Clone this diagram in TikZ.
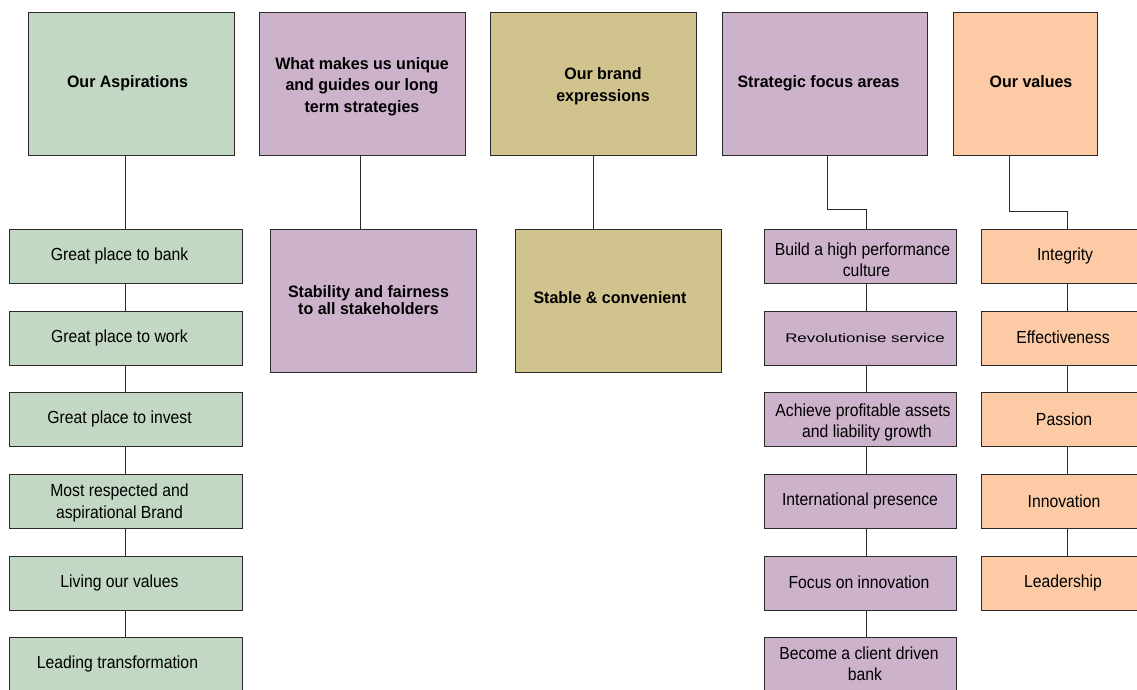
\documentclass[tikz,border=0pt]{standalone}
\usepackage{fontspec}
\setmainfont{Liberation Sans}
\newfontfamily\headfont[FakeStretch=0.97]{Liberation Sans}
\newfontfamily\subfont[FakeStretch=0.9]{Liberation Sans}
\newfontfamily\widefont[FakeStretch=1.35]{Liberation Sans}
\definecolor{cgreen}{HTML}{C2D8C4}
\definecolor{cpurple}{HTML}{CDB2CC}
\definecolor{ckhaki}{HTML}{D0C38E}
\definecolor{corange}{HTML}{FCCAA5}
\definecolor{cline}{HTML}{2A2A2A}
\tikzset{
  box/.style={draw=cline, line width=1pt, rectangle, inner sep=0pt},
  head/.style={box, minimum height=143pt},
  sub/.style={box, minimum height=54pt},
  big/.style={box, minimum width=206pt, minimum height=143pt},
  gbox/.style={fill=cgreen},
  pbox/.style={fill=cpurple},
  kbox/.style={fill=ckhaki},
  obox/.style={fill=corange},
  txt/.style={inner sep=0pt, align=center, text=black},
  headtxt/.style={txt, font=\headfont\bfseries\fontsize{16.5}{21.5}\selectfont},
  bigtxt/.style={txt, font=\headfont\bfseries\fontsize{16.5}{17}\selectfont},
  subtxt/.style={txt, font=\subfont\fontsize{17.5}{21}\selectfont},
  widetxt/.style={txt, font=\widefont\fontsize{12.5}{15}\selectfont},
  conn/.style={draw=cline, line width=1pt},
}
\begin{document}
\begin{tikzpicture}[x=1pt,y=-1pt]
\useasboundingbox (0,0) rectangle (1137,689);
\clip (0,0) rectangle (1137,689);
% top row
\node[head,gbox,minimum width=206pt] (a0) at (131,83.5) {};
\node[head,pbox,minimum width=206pt] (b0) at (362,83.5) {};
\node[head,kbox,minimum width=206pt] (c0) at (593,83.5) {};
\node[head,pbox,minimum width=205pt] (d0) at (824.5,83.5) {};
\node[head,obox,minimum width=144pt] (e0) at (1025,83.5) {};
\node[headtxt] (a0t) at ([shift={(-3.5,0)}]a0.center) {Our Aspirations};
\node[headtxt] (b0t) at ([shift={(0,3)}]b0.center) {What makes us unique\\and guides our long\\term strategies};
\node[headtxt,font=\headfont\bfseries\fontsize{16.5}{22}\selectfont] (c0t) at ([shift={(10,3)}]c0.center) {Our brand\\expressions};
\node[headtxt] (d0t) at ([shift={(-6,0)}]d0.center) {Strategic focus areas};
\node[headtxt] (e0t) at ([shift={(6,-2)}]e0.center) {Our values};
% column 1
\node[sub,gbox,minimum width=233pt] (a1) at (125.5,256) {};
\node[sub,gbox,minimum width=233pt] (a2) at (125.5,338) {};
\node[sub,gbox,minimum width=233pt] (a3) at (125.5,419) {};
\node[sub,gbox,minimum width=233pt] (a4) at (125.5,501) {};
\node[sub,gbox,minimum width=233pt] (a5) at (125.5,583) {};
\node[sub,gbox,minimum width=233pt] (a6) at (125.5,664) {};
\node[subtxt] (a1t) at ([shift={(-6,0)}]a1.center) {Great place to bank};
\node[subtxt] (a2t) at ([shift={(-6,0)}]a2.center) {Great place to work};
\node[subtxt] (a3t) at ([shift={(-6,0)}]a3.center) {Great place to invest};
\node[subtxt,font=\subfont\fontsize{17.5}{22}\selectfont] (a4t) at ([shift={(-6,2)}]a4.center) {Most respected and\\aspirational Brand};
\node[subtxt] (a5t) at ([shift={(-6,0)}]a5.center) {Living our values};
\node[subtxt] (a6t) at ([shift={(-8,0)}]a6.center) {Leading transformation};
% column 2 and 3
\node[big,pbox] (b1) at (373,300.5) {};
\node[big,kbox] (c1) at (618,300.5) {};
\node[bigtxt] (b1t) at ([shift={(-4.5,0)}]b1.center) {Stability and fairness\\to all stakeholders};
\node[bigtxt] (c1t) at ([shift={(-8,-3)}]c1.center) {Stable \& convenient};
% column 4
\node[sub,pbox,minimum width=192pt] (d1) at (860,256) {};
\node[sub,pbox,minimum width=192pt] (d2) at (860,338) {};
\node[sub,pbox,minimum width=192pt] (d3) at (860,419) {};
\node[sub,pbox,minimum width=192pt] (d4) at (860,501) {};
\node[sub,pbox,minimum width=192pt] (d5) at (860,583) {};
\node[sub,pbox,minimum width=192pt] (d6) at (860,664) {};
\node[subtxt] (d1t) at ([shift={(2.5,3.5)}]d1.center) {Build a high performance\\\hspace*{8pt}culture};
\node[widetxt] (d2t) at ([shift={(5,0)}]d2.center) {Revolutionise service};
\node[subtxt] (d3t) at ([shift={(3,3)}]d3.center) {Achieve profitable assets\\\hspace*{8pt}and liability growth};
\node[subtxt] (d4t) at (d4.center) {International presence};
\node[subtxt] (d5t) at ([shift={(-1,-1)}]d5.center) {Focus on innovation};
\node[subtxt] (d6t) at ([shift={(-1,0)}]d6.center) {Become a client driven\\\hspace*{12pt}bank};
% column 5
\node[sub,obox,minimum width=172pt] (e1) at (1067,256) {};
\node[sub,obox,minimum width=172pt] (e2) at (1067,338) {};
\node[sub,obox,minimum width=172pt] (e3) at (1067,419) {};
\node[sub,obox,minimum width=172pt] (e4) at (1067,501) {};
\node[sub,obox,minimum width=172pt] (e5) at (1067,583) {};
\node[subtxt] (e1t) at ([shift={(-2,0)}]e1.center) {Integrity};
\node[subtxt] (e2t) at ([shift={(-4,-1)}]e2.center) {Effectiveness};
\node[subtxt] (e3t) at ([shift={(-3,0)}]e3.center) {Passion};
\node[subtxt] (e4t) at ([shift={(-3,0)}]e4.center) {Innovation};
\node[subtxt] (e5t) at ([shift={(-4,0)}]e5.center) {Leadership};
% connectors
\draw[conn] (a1.north) -- (a1.north |- a0.south);
\draw[conn] ([xshift=-2pt]b0.south) -- ([xshift=-2pt]b0.south |- b1.north);
\draw[conn] (c0.south) -- (c0.south |- c1.north);
\draw[conn] ([xshift=2.5pt]d0.south) -- ++(0,54) -| ([xshift=6pt]d1.north);
\draw[conn] ([xshift=-16pt]e0.south) -- ++(0,56) -| (e1.north);
\foreach \p/\q in {a1/a2,a2/a3,a3/a4,a4/a5,a5/a6,e1/e2,e2/e3,e3/e4,e4/e5}
  \draw[conn] (\p.south) -- (\q.north);
\foreach \p/\q in {d1/d2,d2/d3,d3/d4,d4/d5,d5/d6}
  \draw[conn] ([xshift=6pt]\p.south) -- ([xshift=6pt]\q.north);
\end{tikzpicture}
\end{document}
